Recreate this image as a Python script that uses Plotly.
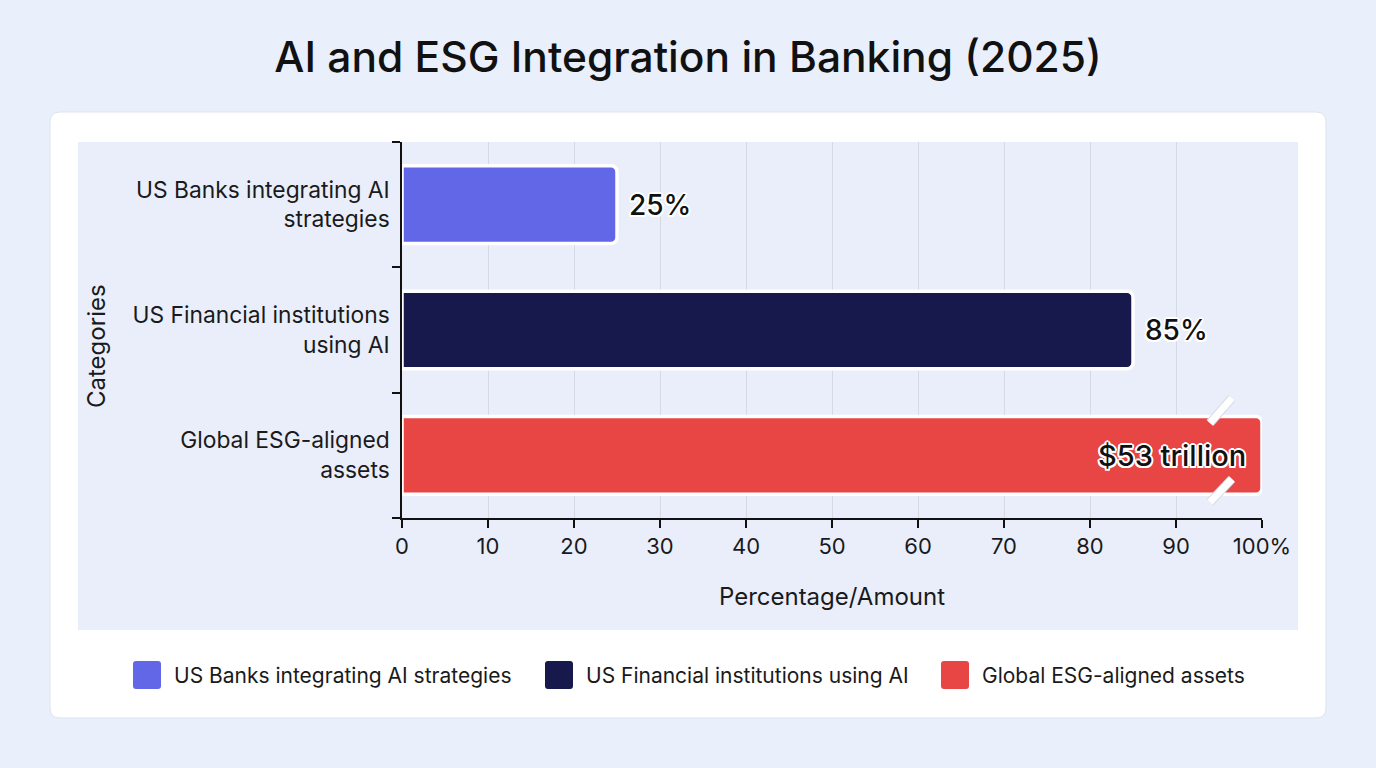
import plotly.graph_objects as go

# ---------------- data ----------------
categories = ["US Banks integrating AI strategies",
              "US Financial institutions using AI",
              "Global ESG-aligned assets"]
tick_labels = ["US Banks integrating AI<br>strategies",
               "US Financial institutions<br>using AI",
               "Global ESG-aligned<br>assets"]
bar_values = [25, 85, 100]          # ESG bar drawn to axis max (broken-scale)
value_labels = ["25%", "85%", "$53 trillion"]
label_inside = [False, False, True]
colors = ["#6167e6", "#17184b", "#e84545"]
x_ticks = [0, 10, 20, 30, 40, 50, 60, 70, 80, 90, 100]
x_ticktext = ["0", "10", "20", "30", "40", "50", "60", "70", "80", "90", "100%"]

W, H = 1376, 768
L, R, T, B = 402, 1262, 142, 518  # plot area pixels
FONT = "Inter, 'Noto Sans', sans-serif"


def px(x):
    return (x - L) / (R - L)


def py(y):
    return (B - y) / (B - T)


def rrect(x0, y0, x1, y1, r):
    rx = r / (R - L)
    ry = r / (B - T)
    X0, X1, Y0, Y1 = px(x0), px(x1), py(y0), py(y1)  # Y0 top (larger)
    return (f"M{X0+rx},{Y0} L{X1-rx},{Y0} Q{X1},{Y0} {X1},{Y0-ry} "
            f"L{X1},{Y1+ry} Q{X1},{Y1} {X1-rx},{Y1} L{X0+rx},{Y1} "
            f"Q{X0},{Y1} {X0},{Y1+ry} L{X0},{Y0-ry} Q{X0},{Y0} {X0+rx},{Y0} Z")


fig = go.Figure()
fig.add_trace(go.Bar(
    x=bar_values, y=categories, orientation="h",
    marker=dict(color=colors, line=dict(color="white", width=3.5), cornerradius=6),
    width=0.62, showlegend=False, hoverinfo="skip",
))

shadow = ("-1.5px -1.5px 0 #fff, 1.5px -1.5px 0 #fff, -1.5px 1.5px 0 #fff, "
          "1.5px 1.5px 0 #fff, 0 2px 0 #fff, 0 -2px 0 #fff, 2px 0 0 #fff, -2px 0 0 #fff")
annotations = []
for cat, v, lab, inside in zip(categories, bar_values, value_labels, label_inside):
    annotations.append(dict(
        x=v, y=cat, xref="x", yref="y", text=lab, showarrow=False,
        xanchor="right" if inside else "left", xshift=-14 if inside else 10,
        font=dict(family=FONT, size=29 if inside else 28, color="#111111",
                  weight=500, shadow=shadow),
    ))

# y-axis title
annotations.append(dict(
    x=px(96), y=py(346), xref="paper", yref="paper", text="Categories",
    showarrow=False, textangle=-90, xanchor="center", yanchor="middle",
    font=dict(family=FONT, size=24, color="#1a1a1a"),
))

# manual legend
leg_sq_x = [133, 545, 941]
for cat, c, sx in zip(categories, colors, leg_sq_x):
    annotations.append(dict(
        x=px(sx + 39), y=py(675), xref="paper", yref="paper", text=cat,
        showarrow=False, xanchor="left", yanchor="middle",
        font=dict(family=FONT, size=21, color="#1a1a1a"),
    ))

shapes = [
    # white card
    dict(type="path", path=rrect(50, 112, 1326, 718, 10), xref="paper", yref="paper",
         fillcolor="white", line=dict(color="#dde3ee", width=1), layer="below"),
    # inner light panel
    dict(type="rect", x0=px(78), x1=px(1298), y0=py(630), y1=py(142),
         xref="paper", yref="paper", fillcolor="#e9eefa", line=dict(width=0), layer="below"),
]
for cat, c, sx in zip(categories, colors, leg_sq_x):
    shapes.append(dict(type="path", path=rrect(sx, 661, sx + 28, 689, 3),
                       xref="paper", yref="paper", fillcolor=c, line=dict(width=0)))

# axis-break marks on the ESG bar
for (xa, ya, xb, yb) in [(93.95, 1.742, 96.5, 1.543), (93.95, 2.373, 96.5, 2.189)]:
    shapes.append(dict(type="line", x0=xa, y0=ya, x1=xb, y1=yb, xref="x", yref="y",
                       line=dict(color="#d6dbe4", width=9), layer="above"))
    shapes.append(dict(type="line", x0=xa, y0=ya, x1=xb, y1=yb, xref="x", yref="y",
                       line=dict(color="white", width=7), layer="above"))

fig.update_layout(
    width=W, height=H, autosize=False,
    margin=dict(l=L, r=W - R, t=T, b=H - B, pad=0),
    paper_bgcolor="#e9effb", plot_bgcolor="rgba(0,0,0,0)",
    title=dict(text="AI and ESG Integration in Banking (2025)", x=0.5, xanchor="center",
               y=1 - 57 / H, yanchor="middle", yref="container",
               font=dict(family=FONT, size=42.5, color="#111111", weight=500)),
    font=dict(family=FONT, color="#1a1a1a"),
    shapes=shapes, annotations=annotations, showlegend=False,
    xaxis=dict(range=[0, 100], tickvals=x_ticks, ticktext=x_ticktext,
               showgrid=True, gridcolor="#d4d9e3", gridwidth=1, zeroline=False,
               showline=True, linecolor="#111111", linewidth=1.5,
               ticks="outside", ticklen=8, tickcolor="#111111", tickwidth=1.5,
               tickfont=dict(size=22, color="#1a1a1a"),
               title=dict(text="Percentage/Amount", standoff=30,
                          font=dict(size=24, color="#1a1a1a")),
               automargin=False, fixedrange=True),
    yaxis=dict(categoryorder="array", categoryarray=categories, autorange="reversed",
               tickvals=categories, ticktext=tick_labels, tickson="boundaries",
               showline=True, linecolor="#111111", linewidth=1.5,
               ticks="outside", ticklen=8, tickcolor="#111111", tickwidth=1.5,
               showgrid=False, tickfont=dict(size=22.8, color="#1a1a1a"),
               ticklabelstandoff=6,
               automargin=False, fixedrange=True),
    bargap=0.38,
)

fig.write_html("out.html")
